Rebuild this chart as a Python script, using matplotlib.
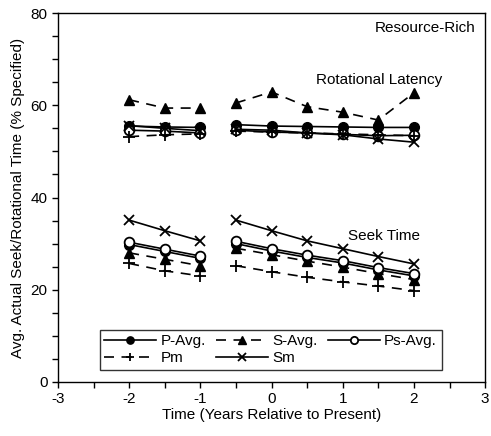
import matplotlib
matplotlib.use("Agg")
import matplotlib.pyplot as plt
import numpy as np
from matplotlib.ticker import MultipleLocator

plt.rcParams['font.family'] = ['Liberation Sans', 'DejaVu Sans']
plt.rcParams['font.size'] = 11
plt.rcParams['axes.unicode_minus'] = False

# years, two runs split by a gap
years_a = [-2, -1.5, -1]
years_b = [-0.5, 0, 0.5, 1, 1.5, 2]

# rotational latency (% specified)
rot_pavg = [55.5, 55.3, 55.2, 55.8, 55.5, 55.4, 55.3, 55.2, 55.2]
rot_savg = [61.2, 59.4, 59.4, 60.5, 62.9, 59.7, 58.5, 56.8, 62.7]
rot_psavg = [54.6, 54.4, 54.0, 54.6, 54.2, 54.0, 53.7, 53.4, 53.5]
rot_pm = [53.2, 53.6, 53.8, 54.4, 54.2, 54.0, 53.8, 53.6, 53.4]
rot_sm = [55.6, 55.0, 54.5, 54.8, 54.6, 54.0, 53.6, 52.7, 52.0]

# seek time (% specified)
seek_pavg = [29.8, 28.3, 26.8, 30.0, 28.4, 27.0, 25.8, 24.3, 23.0]
seek_savg = [28.0, 26.6, 25.2, 29.0, 27.6, 26.2, 24.9, 23.5, 22.2]
seek_psavg = [30.3, 28.8, 27.3, 30.5, 28.9, 27.5, 26.3, 24.8, 23.5]
seek_pm = [25.7, 24.1, 23.0, 25.2, 23.9, 22.7, 21.7, 20.8, 19.8]
seek_sm = [35.1, 32.8, 30.6, 35.1, 32.8, 30.6, 28.9, 27.2, 25.6]

x = np.array(years_a + [np.nan] + years_b)


def split(vals):
    return np.array(vals[:3] + [np.nan] + vals[3:])


dash = (0, (6, 4.5))
styles = {
    'P-Avg.': dict(ls='-', marker='o', mfc='black', mec='black', ms=7),
    'S-Avg.': dict(ls=dash, marker='^', mfc='black', mec='black', ms=7),
    'Ps-Avg.': dict(ls='-', marker='o', mfc='white', mec='black', ms=7, mew=1.3),
    'Pm': dict(ls=dash, marker='+', mfc='black', mec='black', ms=8, mew=1.3),
    'Sm': dict(ls='-', marker='x', mfc='black', mec='black', ms=7, mew=1.3),
}
rot = {'P-Avg.': rot_pavg, 'S-Avg.': rot_savg, 'Ps-Avg.': rot_psavg,
       'Pm': rot_pm, 'Sm': rot_sm}
seek = {'P-Avg.': seek_pavg, 'S-Avg.': seek_savg, 'Ps-Avg.': seek_psavg,
        'Pm': seek_pm, 'Sm': seek_sm}

fig = plt.figure(figsize=(4.91, 4.36), dpi=100)
ax = fig.add_axes([0.118, 0.124, 0.870, 0.846])

handles = {}
for name in ['P-Avg.', 'S-Avg.', 'Ps-Avg.', 'Pm', 'Sm']:
    st = styles[name]
    ln, = ax.plot(x, split(rot[name]), color='black', lw=1.2, label=name, **st)
    ax.plot(x, split(seek[name]), color='black', lw=1.2, **st)
    handles[name] = ln

ax.set_xlim(-3, 3)
ax.set_ylim(0, 80)
ax.xaxis.set_major_locator(MultipleLocator(1))
ax.xaxis.set_minor_locator(MultipleLocator(0.5))
ax.yaxis.set_major_locator(MultipleLocator(20))
ax.yaxis.set_minor_locator(MultipleLocator(5))
ax.tick_params(which='both', direction='out', length=4, width=1, top=False, right=False)
ax.tick_params(which='major', labelsize=11)
for s in ax.spines.values():
    s.set_linewidth(1)

ax.set_xlabel('Time (Years Relative to Present)', fontsize=11, labelpad=1)
ax.set_ylabel('Avg. Actual Seek/Rotational Time (% Specified)', fontsize=11, labelpad=4)

ax.text(2.87, 76.8, 'Resource-Rich', ha='right', va='center', fontsize=11)
ax.text(1.51, 65.5, 'Rotational Latency', ha='center', va='center', fontsize=11)
ax.text(1.58, 31.7, 'Seek Time', ha='center', va='center', fontsize=11)

# column-major fill: row 1 P-Avg./S-Avg./Ps-Avg., row 2 Pm/Sm
order = ['P-Avg.', 'Pm', 'S-Avg.', 'Sm', 'Ps-Avg.']
leg = ax.legend([handles[n] for n in order], order,
                loc='lower left', bbox_to_anchor=(0.098, 0.033, 0.80, 0.113),
                mode='expand', ncol=3, handlelength=3.4, fontsize=11,
                frameon=True, fancybox=False, borderpad=0.3, labelspacing=0.2,
                handletextpad=0.3, columnspacing=0.8, borderaxespad=0,
                markerscale=0.75)
leg.get_frame().set_edgecolor('black')
leg.get_frame().set_linewidth(1)

fig.savefig('out.png', dpi=100)
